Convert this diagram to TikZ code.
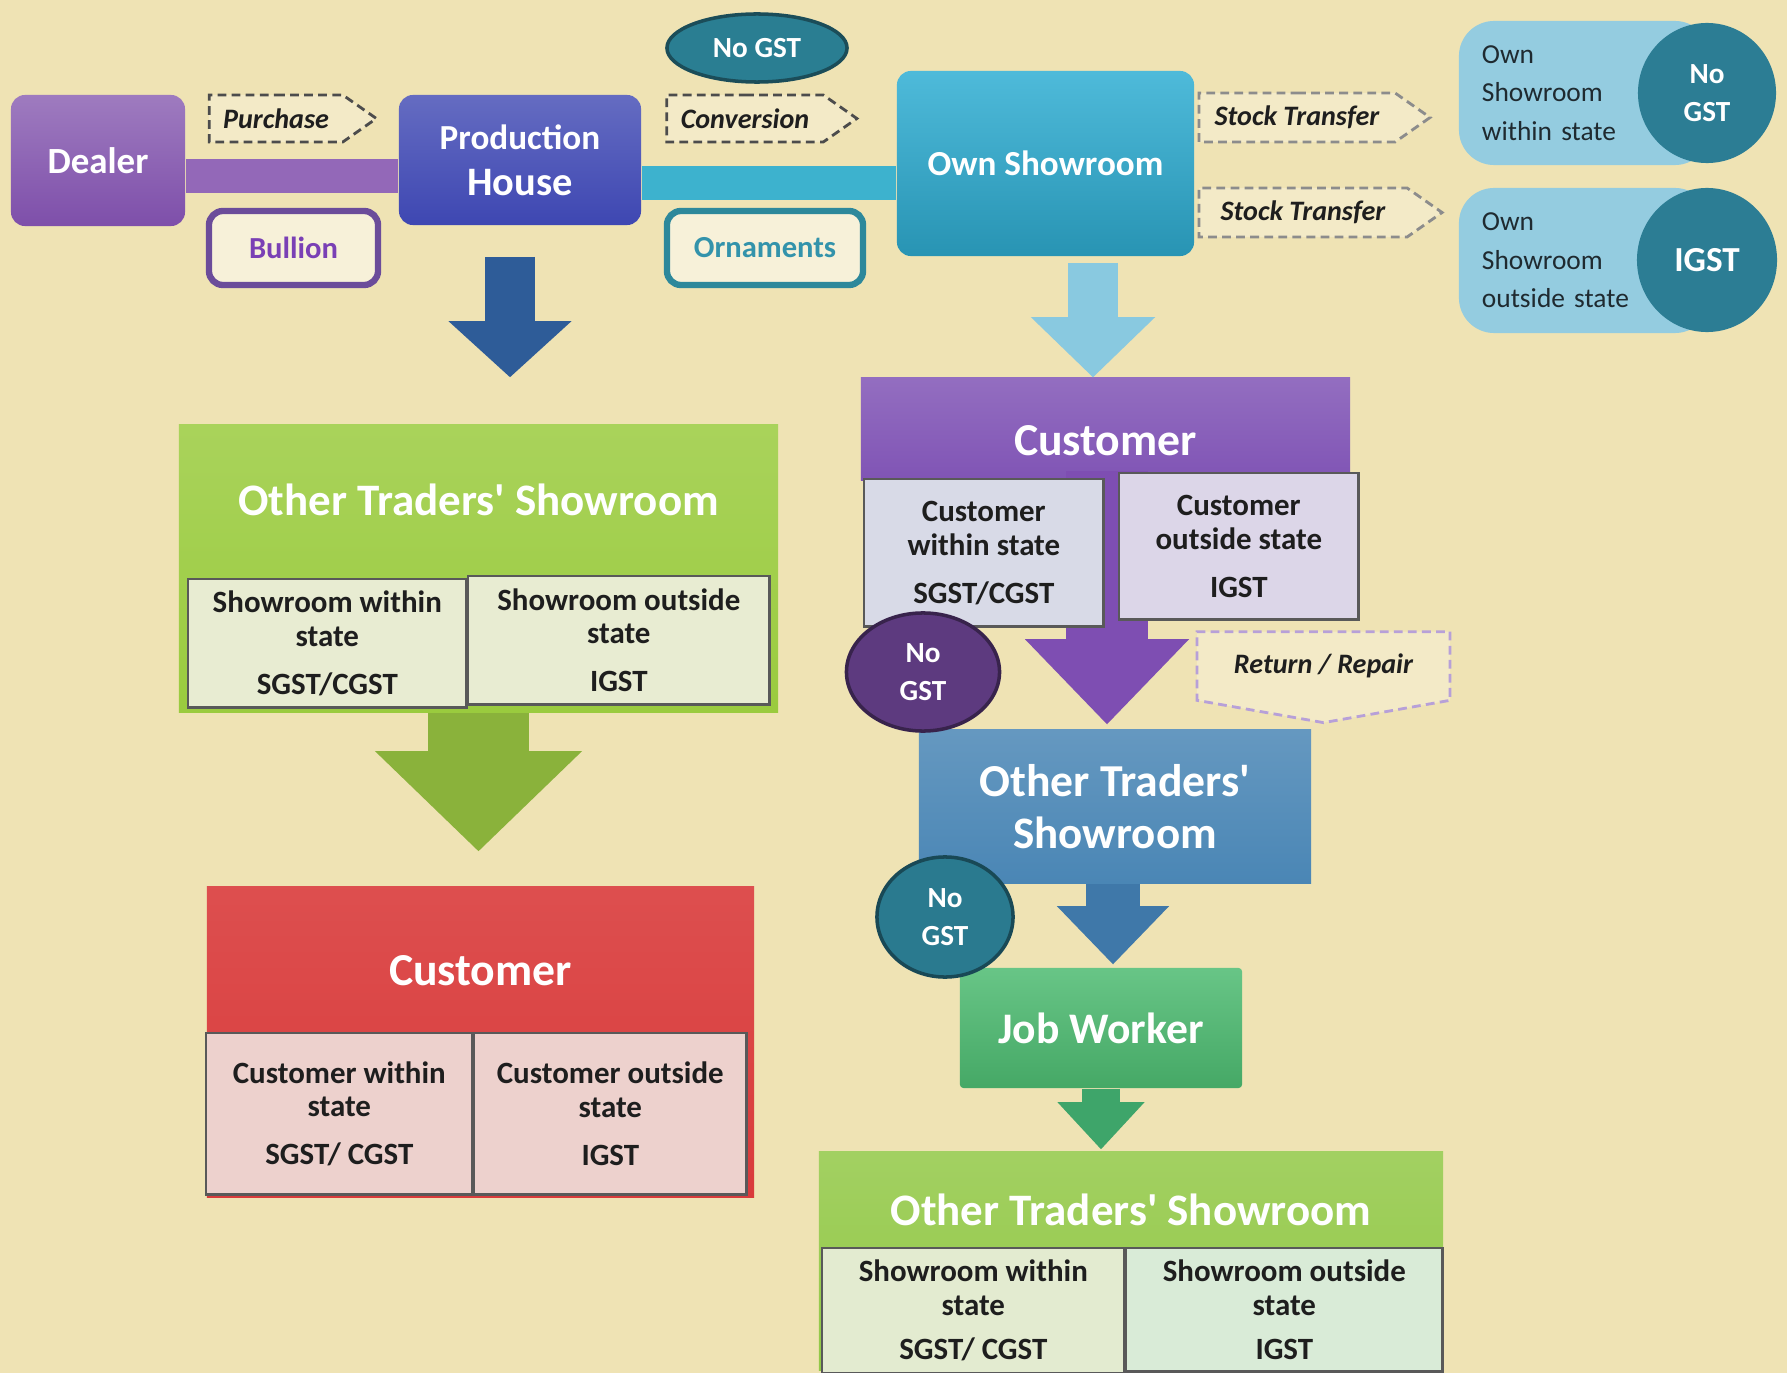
\documentclass[tikz,border=0pt]{standalone}
\usepackage{fontspec}
\setmainfont{Carlito}
\usepackage{tikz}
\usetikzlibrary{arrows.meta,positioning,calc,shapes.geometric,shapes.symbols,backgrounds}
\definecolor{bgc}{HTML}{EFE3B4}
\definecolor{dealer}{HTML}{7E4FAA}
\definecolor{prodb}{HTML}{3E47B2}
\definecolor{purbar}{HTML}{9368B8}
\definecolor{tealbar}{HTML}{3DB2CE}
\definecolor{owns}{HTML}{2FAED3}
\definecolor{nogst}{HTML}{2A7E92}
\definecolor{nogstd}{HTML}{1B4D59}
\definecolor{bullion}{HTML}{6B4C9A}
\definecolor{bulltxt}{HTML}{7A40B5}
\definecolor{orn}{HTML}{2D889B}
\definecolor{orntxt}{HTML}{3393AB}
\definecolor{pill}{HTML}{94CCE0}
\definecolor{pillc}{HTML}{2C7D94}
\definecolor{pilltxt}{HTML}{1F2A30}
\definecolor{arrdb}{HTML}{2E5C98}
\definecolor{hdrg}{HTML}{9ACB3E}
\definecolor{subg}{HTML}{E8ECD2}
\definecolor{arrg}{HTML}{8AB23B}
\definecolor{hdrr}{HTML}{D93B3B}
\definecolor{subr}{HTML}{EDD1CD}
\definecolor{arrlb}{HTML}{89C9E0}
\definecolor{hdrp}{HTML}{8054B5}
\definecolor{subpa}{HTML}{D8DAE7}
\definecolor{subpb}{HTML}{DCD6E8}
\definecolor{arrp}{HTML}{7E4EB2}
\definecolor{circp}{HTML}{5D3A7F}
\definecolor{retb}{HTML}{B7A0D8}
\definecolor{otsb}{HTML}{4A86B5}
\definecolor{circt}{HTML}{2A7A8F}
\definecolor{arrb}{HTML}{3F78A9}
\definecolor{jobw}{HTML}{4DBB71}
\definecolor{arrjg}{HTML}{3EA56A}
\definecolor{hdrgb}{HTML}{92C846}
\definecolor{subga}{HTML}{E3EBD0}
\definecolor{subgb}{HTML}{D9EBD7}
\definecolor{dark}{HTML}{1E1E1E}
\newcommand{\fsz}[2]{\fontsize{#1}{#2}\selectfont}
\newcommand{\apos}{\textquotesingle}
\tikzset{
  glossbox/.style={rectangle, rounded corners=4pt, text=white, align=center,
                   font=\bfseries},
  tagsig/.style={signal, signal to=east, signal pointer angle=70,
                 draw=black!70, dashed, dash pattern=on 2.5pt off 1.5pt,
                 line width=0.8pt, fill=bgc!75!white, inner sep=1pt,
                 font=\bfseries\itshape\fsz{8}{9}, text=dark},
  outl/.style={rectangle, rounded corners=4pt, line width=1.8pt,
               fill=bgc!50!white, font=\bfseries\fsz{8.7}{10}},
  pillb/.style={rectangle, rounded corners=10pt, fill=pill, text=pilltxt,
                align=left, inner xsep=0.23cm, font=\fsz{7.8}{11}},
  circb/.style={ellipse, inner sep=0pt, text=white, align=center,
                font=\bfseries\fsz{8.3}{11}},
  hdr/.style={rectangle, inner sep=0pt},
  hdtxt/.style={text=white, font=\bfseries\fsz{12.8}{15}, align=center},
  subbox/.style={rectangle, anchor=north west, draw=black!65, line width=0.7pt,
                 align=center, text=dark, font=\bfseries\fsz{8.8}{9.6}},
  bar/.style={line width=0.33cm},
  blkarr/.style n args={4}{draw=#1, line width=#2,
                 -{Triangle[width=#3, length=#4, line width=0pt, fill=#1]}},
}
\begin{document}
\begin{tikzpicture}[x=0.01cm, y=-0.01cm]
  \useasboundingbox (0,0) rectangle (1787,1373);

  % top row: dealer -> production house -> own showroom
  \node[glossbox, top color=dealer!75!white, bottom color=dealer,
        minimum width=1.74cm, minimum height=1.31cm] (dealer) at (98,160.5)
       {\fsz{10.5}{12}Dealer};
  \node[glossbox, top color=prodb!80!white, bottom color=prodb,
        minimum width=2.42cm, minimum height=1.30cm] (prod) at (520,160)
       {\fsz{10}{12}Production\\[1pt]\fsz{11.5}{13}House};
  \node[glossbox, top color=owns!85!white, bottom color=owns!85!black,
        minimum width=2.97cm, minimum height=1.85cm] (owns) at (1045.5,163.5)
       {\fsz{10}{12}Own Showroom};

  % the signal shape is centred on its body, not on its tip
  \node[tagsig, minimum width=1.67cm, minimum height=0.47cm] (purch) at (276,118.5) {Purchase};
  \node[outl, draw=bullion, text=bulltxt, minimum width=1.69cm, minimum height=0.74cm]
       (bull) at (293.5,248) {Bullion};
  \node[circb, fill=nogst, draw=nogstd, line width=1pt,
        minimum width=1.80cm, minimum height=0.68cm] (ngsta) at (757,48) {No GST};
  \node[tagsig, minimum width=1.90cm, minimum height=0.47cm] (conv) at (745,118.5) {Conversion};
  \node[outl, draw=orn, text=orntxt, minimum width=1.96cm, minimum height=0.74cm]
       (orna) at (765,248) {Ornaments};

  \node[tagsig, draw=black!45, minimum width=2.31cm, minimum height=0.49cm] (stka) at (1297,117.5) {Stock Transfer};
  \node[tagsig, draw=black!45, minimum width=2.43cm, minimum height=0.49cm] (stkb) at (1303,212.5) {Stock Transfer};

  % own showrooms on the right
  \node[pillb, minimum width=2.51cm, minimum height=1.44cm, text width=2.05cm]
       (owna) at (1584.5,93) {Own\\Showroom\\within state};
  \node[circb, fill=pillc, minimum width=1.38cm, minimum height=1.40cm]
       (ownac) at (1707,93) {\fsz{8.3}{12}No\\GST};
  \node[pillb, minimum width=2.51cm, minimum height=1.45cm, text width=2.05cm]
       (ownb) at (1584.5,260.5) {Own\\Showroom\\outside state};
  \node[circb, fill=pillc, minimum width=1.40cm, minimum height=1.44cm]
       (ownbc) at (1707,260) {\fsz{10}{12}IGST};

  \begin{scope}[on background layer]
    \fill[bgc] (0,0) rectangle (1787,1373);
    \coordinate (ba) at ($(dealer.east)+(0,15.5)$);
    \draw[bar, draw=purbar] (ba) -- (ba -| prod.west);
    \coordinate (bb) at ($(prod.east)+(0,23)$);
    \draw[bar, draw=tealbar] (bb) -- (bb -| owns.west);
  \end{scope}

  % left branch
  \node[hdr, top color=hdrg!85!white, bottom color=hdrg, minimum width=5.99cm, minimum height=2.87cm]
       (lots) at (478.5,568.5) {};
  \node[hdtxt] (lotst) at ($(lots.north)+(0,76)$) {Other Traders\apos{} Showroom};
  \node[subbox, fill=subg, minimum width=2.78cm, minimum height=1.28cm] (lotsa) at (187,578)
       {Showroom within\\state\\[4pt]SGST/CGST};
  \node[subbox, fill=subg, minimum width=3.01cm, minimum height=1.28cm] (lotsb) at (467,575)
       {Showroom outside\\state\\[4pt]IGST};

  \coordinate (aa) at ($(prod.south)+(-10,0)$);
  \draw[blkarr={arrdb}{0.50cm}{1.23cm}{0.56cm}, shorten <=0.31cm, shorten >=0.47cm]
       (aa) -- (aa |- lots.north);

  \node[hdr, top color=hdrr!90!white, bottom color=hdrr, minimum width=5.47cm, minimum height=3.10cm]
       (lcus) at (480.5,1042) {};
  \node[hdtxt] (lcust) at ($(lcus.north)+(0,84)$) {\fsz{13}{15}Customer};
  \node[subbox, fill=subr, minimum width=2.66cm, minimum height=1.61cm] (lcusa) at (205,1032)
       {Customer within\\state\\[4pt]SGST/ CGST};
  \node[subbox, fill=subr, minimum width=2.72cm, minimum height=1.61cm] (lcusb) at (473,1032)
       {Customer outside\\state\\[4pt]IGST};

  \coordinate (ab) at (lots.south);
  \draw[blkarr={arrg}{1.00cm}{2.07cm}{1.00cm}, shorten >=0.35cm]
       (ab) -- (ab |- lcus.north);

  % right branch
  \node[hdr, top color=hdrp!85!white, bottom color=hdrp, minimum width=4.89cm, minimum height=1.02cm]
       (rcus) at (1105.5,429) {};
  \node[hdtxt] (rcust) at ($(rcus.north)+(0,63)$) {\fsz{13}{15}Customer};

  \coordinate (ac) at ($(owns.south)+(47.5,0)$);
  \draw[blkarr={arrlb}{0.50cm}{1.24cm}{0.60cm}, shorten <=0.06cm]
       (ac) -- (ac |- rcus.north);

  \node[hdr, top color=otsb!85!white, bottom color=otsb, minimum width=3.92cm, minimum height=1.53cm]
       (rots) at (1115,806.5) {};
  \node[hdtxt, anchor=center] (rotst) at (rots.center) {\fsz{13}{16}Other Traders\apos\\Showroom};

  \coordinate (ad) at ($(rcus.south)+(1.5,-10)$);
  \draw[blkarr={arrp}{0.81cm}{1.64cm}{0.85cm}, shorten >=0.05cm]
       (ad) -- (ad |- rots.north);

  \node[subbox, fill=subpa, minimum width=2.39cm, minimum height=1.47cm] (rcusa) at (863,478)
       {Customer\\within state\\[4pt]SGST/CGST};
  \node[subbox, fill=subpb, minimum width=2.39cm, minimum height=1.46cm] (rcusb) at (1118,472)
       {Customer\\outside state\\[4pt]IGST};

  \node[tagsig, signal to=south, signal pointer angle=160, draw=retb,
        minimum width=2.53cm, minimum height=0.85cm] (retr) at (1323.5,666) {Return / Repair};
  \node[circb, fill=circp, draw=circp!60!black, line width=1pt,
        minimum width=1.53cm, minimum height=1.18cm] (ngstb) at (923,672) {No\\GST};

  \node[glossbox, rounded corners=1pt, top color=jobw!85!white, bottom color=jobw!90!black,
        minimum width=2.82cm, minimum height=1.20cm] (jobw) at (1101,1028)
       {\fsz{12.4}{14}Job Worker};

  \coordinate (ae) at ($(rots.south)+(-2,0)$);
  \draw[blkarr={arrb}{0.54cm}{1.12cm}{0.58cm}, shorten >=0.03cm]
       (ae) -- (ae |- jobw.north);

  \node[circb, fill=circt, draw=circt!60!black, line width=1pt,
        minimum width=1.36cm, minimum height=1.20cm] (ngstc) at (945,917) {No\\GST};

  \node[hdr, top color=hdrgb!85!white, bottom color=hdrgb, minimum width=6.24cm, minimum height=2.18cm]
       (bots) at (1131,1261) {};
  \node[hdtxt] (botst) at ($(bots.north)+(0,59)$) {Other Traders\apos{} Showroom};
  \node[subbox, fill=subga, minimum width=3.02cm, minimum height=1.21cm] (botsa) at (821,1247)
       {Showroom within\\state\\[3pt]SGST/ CGST};
  \node[subbox, fill=subgb, minimum width=3.16cm, minimum height=1.21cm] (botsb) at (1125,1247)
       {Showroom outside\\state\\[3pt]IGST};

  \coordinate (af) at (jobw.south);
  \draw[blkarr={arrjg}{0.37cm}{0.87cm}{0.47cm}, shorten >=0.02cm]
       (af) -- (af |- bots.north);
\end{tikzpicture}
\end{document}
